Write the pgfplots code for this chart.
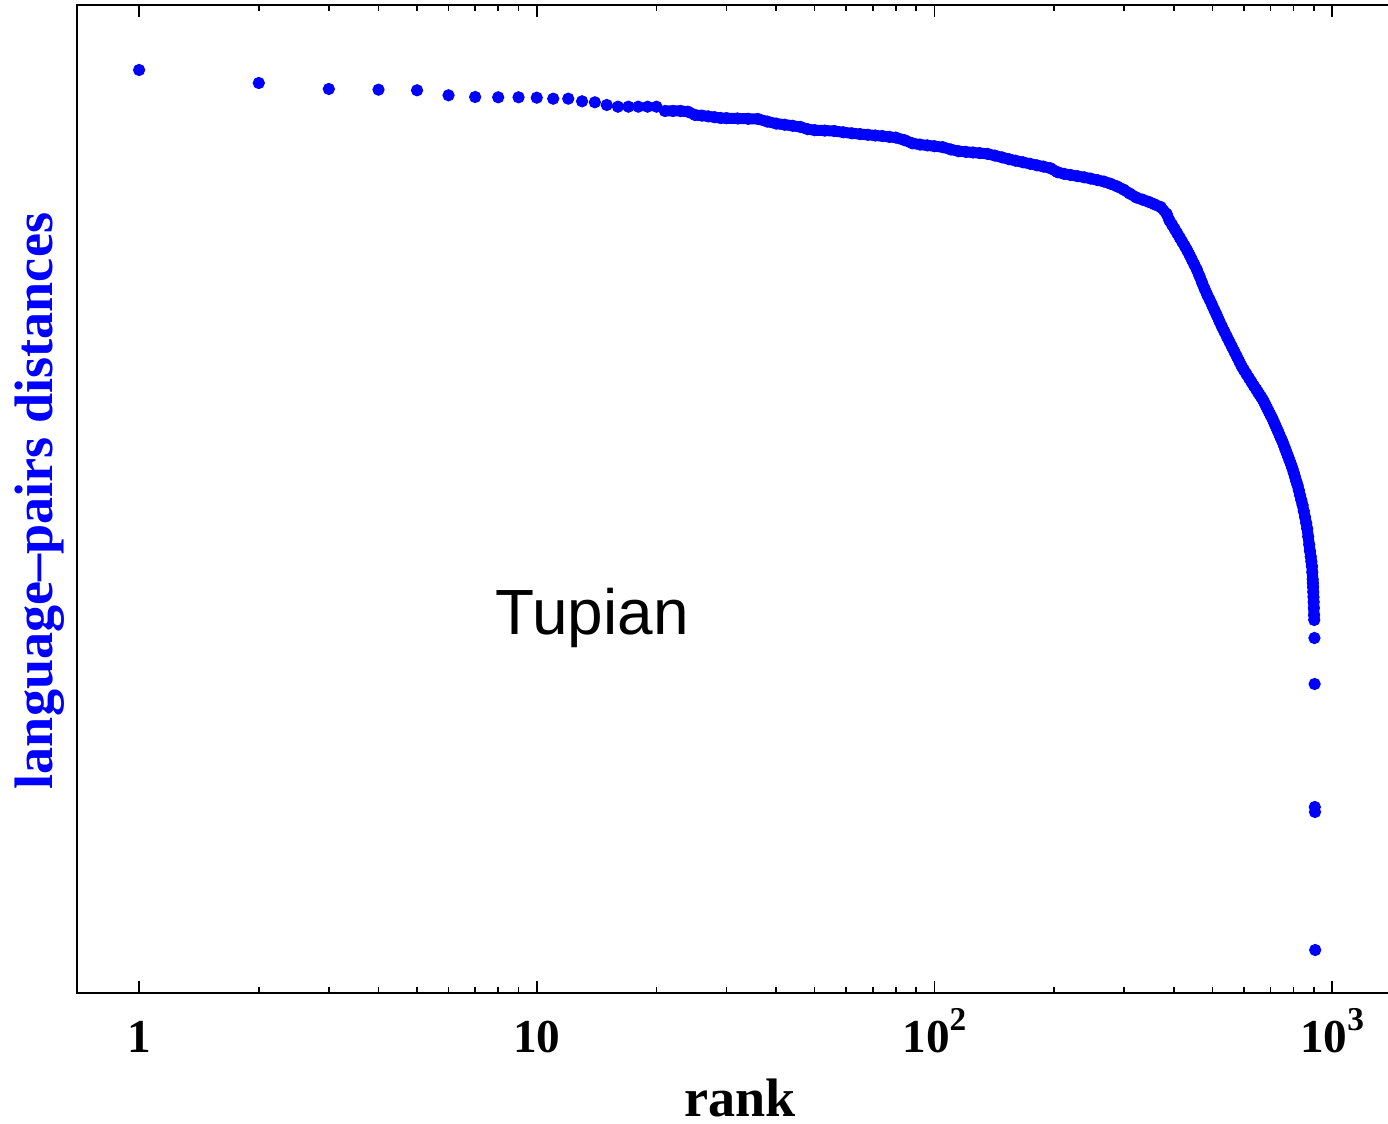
\documentclass[border=0pt]{standalone}
\usepackage{fontspec}
\setmainfont{Liberation Serif}
\newfontfamily\arialfont{Liberation Sans}
\usepackage{pgfplots}
\pgfplotsset{compat=1.18}
\usepackage{pgfplotstable}

% isolated points (head and tail of the ranking)
\pgfplotstableread{
rank dist
1 923
2 910
3 904
4 903.3
5 902.7
6 897.7
7 896
8 895.7
9 895.7
10 895.3
11 894.3
12 894.3
13 891.7
14 890.7
15 888
16 886.3
17 886.3
18 886.3
19 886.3
20 886.3
903 355
904 309
905 186
906 181
907 43
}\sparse

% dense part, where the dots merge into a band
\pgfplotstableread{
rank dist
21 882
22 882
23 882
24 881.3
25 878
26 877.4
27 876.6
28 875.8
29 875
30 874.8
32 874.5
34 874.2
36 874
38 871.4
40 869.4
42 868.3
44 867.2
46 866.1
48 863.8
50 862.8
53 862.4
56 862
59 860.7
62 859.7
65 858.9
68 858.2
71 857.5
74 856.9
77 856.1
80 855.4
84 852.9
88 849.7
92 848.4
96 847.6
100 846.8
105 845.8
110 843.5
115 841.8
120 841.1
125 840.5
130 839.9
136 839.1
142 837.4
148 835.6
154 833.8
160 832.3
167 830.7
174 829.2
181 827.7
188 826.4
196 824.7
204 820.8
212 819.1
220 818
229 816.8
238 815.7
247 814.4
257 812.9
267 811.4
277 809.3
288 806.6
299 803.4
310 799.4
322 795.5
334 793.3
346 791.1
358 788.6
371 785.9
384 779
390 772.5
396 768.3
402 764
408 759.7
414 755.4
420 751.2
426 747.1
432 742.8
438 738.2
444 733.4
450 728.8
457 723.4
464 717
471 710.5
478 704.2
485 698.5
492 693.4
499 688.1
506 682.9
513 677.8
520 672.4
528 666.7
536 661.4
544 656.2
552 651.2
560 646.2
568 641.4
576 636.6
584 631.8
592 627
600 623.1
609 619
618 615
627 611
636 607.1
645 603.4
651 600.9
657 598.4
663 596.1
669 593.6
675 590.8
681 587.6
687 584.6
693 581.6
699 578.6
705 575.8
711 572.8
717 569.3
723 566.1
729 562.9
735 559.7
741 556.2
747 553.2
753 550
759 546.3
765 542.5
771 539.1
777 535.6
783 531.9
789 528.4
795 524.7
801 520.3
807 516
813 511.7
819 507.7
825 502.8
831 497.6
837 492.8
843 488
849 482
855 476
861 470
866 464.4
871 456.4
876 448.4
880 442
884 436.4
887 431.6
890 426.8
892 420.7
894 413.6
895 410
896 406
897 401
898 396
899 391
900 385
901 378
902 373
}\band

\newcommand{\expo}[1]{\raisebox{7.9pt}{\fontsize{12}{12}\selectfont #1}}

\begin{document}
\begin{tikzpicture}
\begin{axis}[
  scale only axis,
  width=473.4pt, height=355.68pt,
  xmode=log,
  xmin=0.698, xmax=1415,
  ymin=0, ymax=988,
  axis line style={line width=0.8pt},
  tick align=inside,
  xtick={1,10,100,1000},
  xticklabels={1,10,10\expo{2},10\expo{3}},
  minor xtick={2,3,...,9,20,30,...,90,200,300,...,900},
  ytick=\empty,
  major tick length=4.3pt,
  minor tick length=2.2pt,
  every tick/.style={black, line width=0.55pt},
  xticklabel style={font=\bfseries\fontsize{17}{17}\selectfont,
    inner sep=0pt, text height=21.2pt, text depth=0pt},
  xlabel={rank},
  xlabel style={font=\bfseries\fontsize{19.5}{19.5}\selectfont,
    at={(axis description cs:0.504,-0.1245)}, anchor=base, inner sep=0pt},
  ylabel={language\textendash pairs distances},
  ylabel style={font=\bfseries\fontsize{19.5}{19.5}\selectfont, text=blue,
    at={(axis description cs:-0.01825,0.498)}, anchor=base, inner sep=0pt},
]

\addplot[blue, line width=3.96pt, line cap=round, line join=round]
  table[x=rank, y=dist] {\band};
\addplot[only marks, mark=*, mark size=2pt, blue,
  mark options={draw=none, fill=blue}]
  table[x=rank, y=dist] {\band};
\addplot[only marks, mark=*, mark size=2pt, blue,
  mark options={draw=none, fill=blue}]
  table[x=rank, y=dist] {\sparse};

\node[anchor=base west, inner sep=0pt,
  font=\arialfont\fontsize{23}{23}\selectfont] at (axis cs:7.857,359) {Tupian};

\end{axis}
\pgfresetboundingbox
\path (-27.72pt,-46.8pt) rectangle (471.96pt,357.48pt);
\end{tikzpicture}
\end{document}
